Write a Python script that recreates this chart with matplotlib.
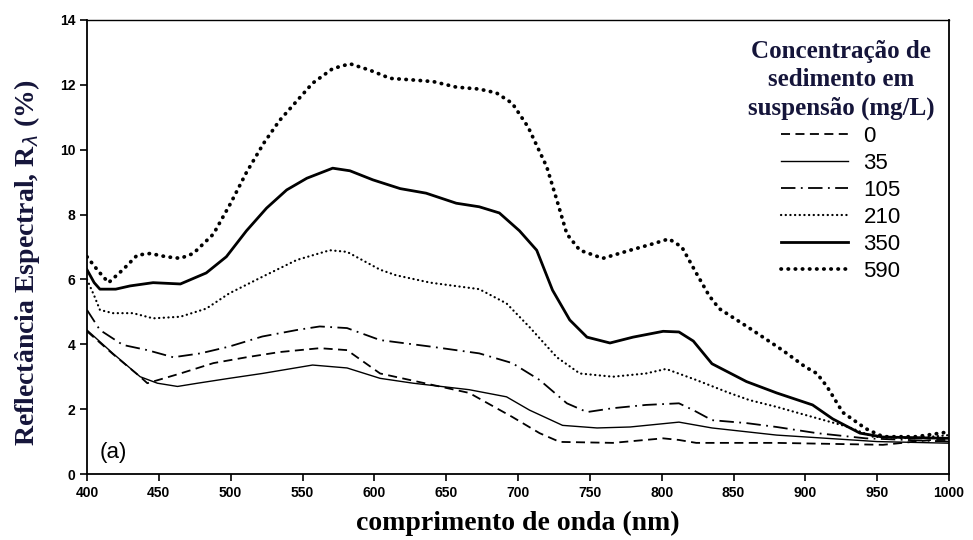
import matplotlib.pyplot as plt

wl_0 = [400, 418, 437, 442, 465, 488, 511, 534, 562, 581, 604, 666, 696, 715, 729, 766, 801, 812, 824, 880, 954, 988, 1000]
r_0 = [4.4, 3.7, 3.0, 2.8, 3.1, 3.42, 3.6, 3.76, 3.88, 3.82, 3.1, 2.5, 1.76, 1.26, 0.99, 0.96, 1.1, 1.05, 0.96, 0.96, 0.9, 1.05, 1.05]

wl_35 = [400, 418, 437, 449, 463, 477, 499, 522, 557, 581, 604, 627, 666, 692, 708, 731, 755, 778, 812, 835, 880, 950, 1000]
r_35 = [4.44, 3.72, 3.0, 2.8, 2.7, 2.8, 2.95, 3.1, 3.36, 3.27, 2.95, 2.8, 2.6, 2.38, 1.97, 1.5, 1.42, 1.45, 1.6, 1.42, 1.2, 1.0, 0.95]

wl_105 = [400, 409, 425, 442, 460, 479, 499, 522, 546, 562, 581, 604, 639, 673, 696, 715, 734, 748, 766, 789, 812, 822, 835, 859, 880, 908, 942, 1000]
r_105 = [5.06, 4.44, 3.98, 3.82, 3.6, 3.72, 3.93, 4.24, 4.44, 4.55, 4.5, 4.13, 3.93, 3.72, 3.42, 2.9, 2.18, 1.91, 2.03, 2.13, 2.18, 1.97, 1.66, 1.57, 1.45, 1.26, 1.1, 1.0]

wl_210 = [400, 405, 409, 418, 432, 446, 465, 483, 499, 522, 546, 569, 581, 604, 615, 639, 673, 692, 708, 727, 743, 766, 789, 803, 824, 847, 861, 880, 896, 930, 947, 975, 1000]
r_210 = [6.0, 5.5, 5.06, 4.96, 4.96, 4.8, 4.85, 5.1, 5.57, 6.08, 6.6, 6.9, 6.85, 6.3, 6.13, 5.9, 5.7, 5.26, 4.53, 3.6, 3.1, 3.0, 3.1, 3.24, 2.9, 2.5, 2.28, 2.07, 1.87, 1.45, 1.15, 1.1, 1.2]

wl_350 = [400, 405, 409, 420, 430, 446, 465, 483, 497, 511, 525, 539, 553, 571, 583, 599, 618, 636, 657, 673, 687, 701, 713, 724, 736, 748, 764, 780, 801, 812, 822, 835, 859, 880, 905, 919, 938, 954, 1000]
r_350 = [6.3, 5.9, 5.7, 5.7, 5.8, 5.9, 5.86, 6.2, 6.7, 7.5, 8.2, 8.76, 9.12, 9.43, 9.35, 9.07, 8.8, 8.66, 8.35, 8.24, 8.05, 7.5, 6.9, 5.67, 4.75, 4.22, 4.04, 4.22, 4.4, 4.38, 4.1, 3.4, 2.85, 2.5, 2.13, 1.7, 1.26, 1.14, 1.1]

wl_590 = [400, 408, 415, 425, 435, 444, 455, 465, 474, 488, 500, 511, 523, 534, 546, 557, 571, 583, 597, 611, 627, 641, 657, 673, 685, 696, 707, 720, 727, 734, 743, 759, 778, 794, 805, 814, 824, 833, 840, 861, 884, 900, 908, 915, 926, 942, 954, 977, 1000]
r_590 = [6.7, 6.25, 5.9, 6.3, 6.75, 6.8, 6.7, 6.65, 6.8, 7.4, 8.35, 9.3, 10.2, 10.9, 11.5, 12.05, 12.5, 12.65, 12.45, 12.2, 12.15, 12.1, 11.93, 11.87, 11.75, 11.43, 10.7, 9.47, 8.45, 7.4, 6.9, 6.65, 6.9, 7.1, 7.25, 7.0, 6.2, 5.5, 5.1, 4.5, 3.82, 3.3, 3.1, 2.7, 1.9, 1.4, 1.15, 1.15, 1.3]

labels = ['0', '35', '105', '210', '350', '590']
x_ticks = list(range(400, 1001, 50))
y_ticks = list(range(0, 15, 2))

fig = plt.figure(figsize=(9.73, 5.4), dpi=100)
ax = fig.add_axes([0.0894, 0.1222, 0.886, 0.8408])

ax.plot(wl_0, r_0, color='black', lw=1.3, linestyle=(0, (5, 3)), label=labels[0])
ax.plot(wl_35, r_35, color='black', lw=1.0, linestyle='-', label=labels[1])
ax.plot(wl_105, r_105, color='black', lw=1.3, linestyle=(0, (8, 3, 1, 3)), label=labels[2])
ax.plot(wl_210, r_210, color='black', lw=1.6, linestyle=(0, (0.1, 2.0)),
        dash_capstyle='round', label=labels[3])
ax.plot(wl_350, r_350, color='black', lw=2.0, linestyle='-', label=labels[4])
ax.plot(wl_590, r_590, color='black', lw=2.7, linestyle=(0, (0.1, 1.8)),
        dash_capstyle='round', label=labels[5])

ax.set_xlim(400, 1000)
ax.set_ylim(0, 14)
ax.set_xticks(x_ticks)
ax.set_yticks(y_ticks)
ax.tick_params(direction='out', length=5, width=1.2, top=False, right=False)
for lab in ax.get_xticklabels() + ax.get_yticklabels():
    lab.set_fontfamily('Liberation Sans')
    lab.set_fontweight('bold')
    lab.set_fontsize(10)
for side in ['left', 'bottom', 'right']:
    ax.spines[side].set_linewidth(1.3)
ax.spines['top'].set_linewidth(1.0)

ax.set_xlabel('comprimento de onda (nm)', family='Liberation Serif', weight='bold',
              fontsize=20, labelpad=8)
ax.set_ylabel(r'Reflectância Espectral, R$_\lambda$ (%)', family='Liberation Serif',
              weight='bold', fontsize=20, color='#15153a')
ax.yaxis.set_label_coords(-0.052, 0.465)

ax.text(409, 0.5, '(a)', family='Liberation Sans', fontsize=16)

leg = ax.legend(title='Concentração de\nsedimento em\nsuspensão (mg/L)', loc='upper right',
                bbox_to_anchor=(1.006, 1.0), frameon=False, handlelength=3.0,
                handletextpad=0.7, labelspacing=0.27,
                prop={'family': 'Liberation Sans', 'size': 16},
                title_fontproperties={'family': 'Liberation Serif', 'weight': 'bold', 'size': 18})
leg.get_title().set_multialignment('center')
leg.get_title().set_linespacing(1.3)
leg.get_title().set_color('#15153a')

fig.savefig('out.png', dpi=100)
